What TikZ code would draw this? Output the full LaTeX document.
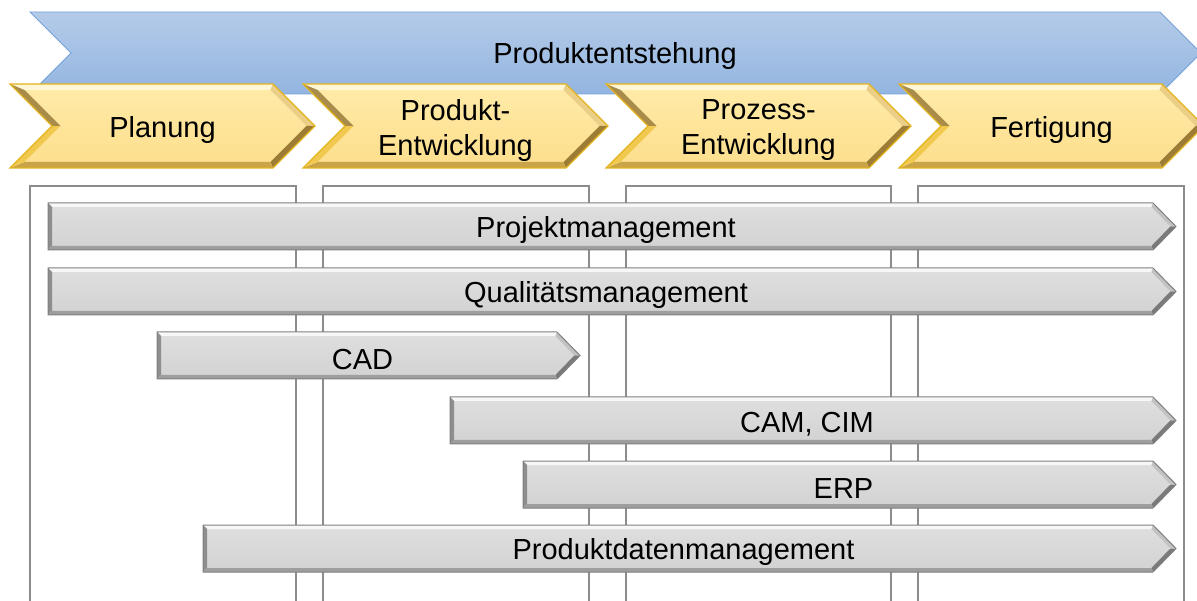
\documentclass[tikz,border=0pt]{standalone}
\usepackage{fontspec}
\setmainfont{Liberation Sans}

% banner
\definecolor{bannerTop}{HTML}{B4CBE9}
\definecolor{bannerBot}{HTML}{93B5E0}
\definecolor{bannerEdge}{HTML}{76A3DA}
% phase chevrons
\definecolor{chevFaceTop}{HTML}{FFEAA6}
\definecolor{chevFaceBot}{HTML}{FDDF8E}
\definecolor{chevEdge}{HTML}{E3B21C}
\definecolor{chevHi}{HTML}{FFF6D6}
\definecolor{chevUR}{HTML}{EBCF86}
\definecolor{chevLR}{HTML}{9D7D35}
\definecolor{chevBot}{HTML}{C9A448}
\definecolor{chevLL}{HTML}{F0C94E}
\definecolor{chevUL}{HTML}{A98B4A}
% tool bars
\definecolor{barFaceTop}{HTML}{DEDEDE}
\definecolor{barFaceBot}{HTML}{D3D3D3}
\definecolor{barEdge}{HTML}{808080}
\definecolor{barHi}{HTML}{F7F7F7}
\definecolor{barUR}{HTML}{C2C2C2}
\definecolor{barLR}{HTML}{7A7A7A}
\definecolor{barBot}{HTML}{9E9E9E}
\definecolor{barLeft}{HTML}{8E8E8E}
\definecolor{colLine}{HTML}{8C8C8C}

\tikzset{
  label text/.style={font=\fontsize{29}{35}\selectfont, text=black, align=center,
    inner sep=0pt, yshift=-3.5pt},
  column frame/.style={draw=colLine, line width=1.3pt},
}

% phase chevron: #1 name, #2 left x, #3 label
\newcommand\stagechevron[3]{%
  \begin{scope}[shift={(#2,0)}]
    \shade[top color=chevFaceTop, bottom color=chevFaceBot]
      (14.5,90) -- (260.5,90) -- (296.5,126) -- (260.5,162) -- (14.5,162) -- (50.5,126) -- cycle;
    \fill[chevHi]  (0,84) -- (263,84) -- (260.5,90) -- (14.5,90) -- cycle;
    \fill[chevUR]  (263,84) -- (305,126) -- (296.5,126) -- (260.5,90) -- cycle;
    \fill[chevLR]  (305,126) -- (263,168) -- (260.5,162) -- (296.5,126) -- cycle;
    \fill[chevBot] (263,168) -- (0,168) -- (14.5,162) -- (260.5,162) -- cycle;
    \fill[chevLL]  (0,168) -- (42,126) -- (50.5,126) -- (14.5,162) -- cycle;
    \fill[chevUL]  (42,126) -- (0,84) -- (14.5,90) -- (50.5,126) -- cycle;
    \draw[chevEdge, line width=1.2pt, line join=miter]
      (0,84) -- (263,84) -- (305,126) -- (263,168) -- (0,168) -- (42,126) -- cycle;
    \node[label text] (#1) at (152.5,127) {#3};
  \end{scope}}

% tool bar: #1 name, #2 left x, #3 top y, #4 length to tip, #5 label
\newcommand\toolbar[5]{%
  \begin{scope}[shift={(#2,#3)}]
    \shade[top color=barFaceTop, bottom color=barFaceBot]
      (4,4) -- ({#4-24.7},4) -- ({#4-5.7},23.5) -- ({#4-24.7},43) -- (4,43) -- cycle;
    \fill[barHi]   (0,0) -- ({#4-23},0) -- ({#4-24.7},4) -- (4,4) -- cycle;
    \fill[barUR]   ({#4-23},0) -- (#4,23.5) -- ({#4-5.7},23.5) -- ({#4-24.7},4) -- cycle;
    \fill[barLR]   (#4,23.5) -- ({#4-23},47) -- ({#4-24.7},43) -- ({#4-5.7},23.5) -- cycle;
    \fill[barBot]  ({#4-23},47) -- (0,47) -- (4,43) -- ({#4-24.7},43) -- cycle;
    \fill[barLeft] (0,47) -- (0,0) -- (4,4) -- (4,43) -- cycle;
    \draw[barEdge, line width=1pt, line join=miter]
      (0,0) -- ({#4-23},0) -- (#4,23.5) -- ({#4-23},47) -- (0,47) -- cycle;
    \node[label text] (#1) at ({#4/2-6},24) {#5};
  \end{scope}}

\begin{document}
\begin{tikzpicture}[x=1pt, y=-1pt]
  \useasboundingbox (0,0) rectangle (1197,601);
  \clip (0,0) rectangle (1197,601);

  % overall process banner
  \shade[top color=bannerTop, bottom color=bannerBot, draw=bannerEdge, line width=0.8pt]
    (30,12) -- (1160,12) -- (1201,53) -- (1160,94) -- (30,94) -- (71,53) -- cycle;
  \node[label text] (entstehung) at (615,53) {Produktentstehung};

  % phases
  \stagechevron{planung}{10}{Planung}
  \stagechevron{produkt}{303}{Produkt-\\Entwicklung}
  \stagechevron{prozess}{606}{Prozess-\\Entwicklung}
  \stagechevron{fertigung}{899}{Fertigung}

  % phase columns
  \draw[column frame] (30,620) -- (30,186) -- (296,186) -- (296,620);
  \draw[column frame] (323,620) -- (323,186) -- (589,186) -- (589,620);
  \draw[column frame] (626,620) -- (626,186) -- (891,186) -- (891,620);
  \draw[column frame] (918,620) -- (918,186) -- (1184,186) -- (1184,620);

  % supporting systems
  \toolbar{pm}{48}{203}{1128}{Projektmanagement}
  \toolbar{qm}{48}{268}{1128}{Qualitätsmanagement}
  \toolbar{cad}{157}{332}{423}{CAD}
  \toolbar{cam}{450}{397}{726}{CAM, CIM}
  \toolbar{erp}{523}{461}{653}{ERP}
  \toolbar{pdm}{203}{525}{973}{Produktdatenmanagement}
\end{tikzpicture}
\end{document}
